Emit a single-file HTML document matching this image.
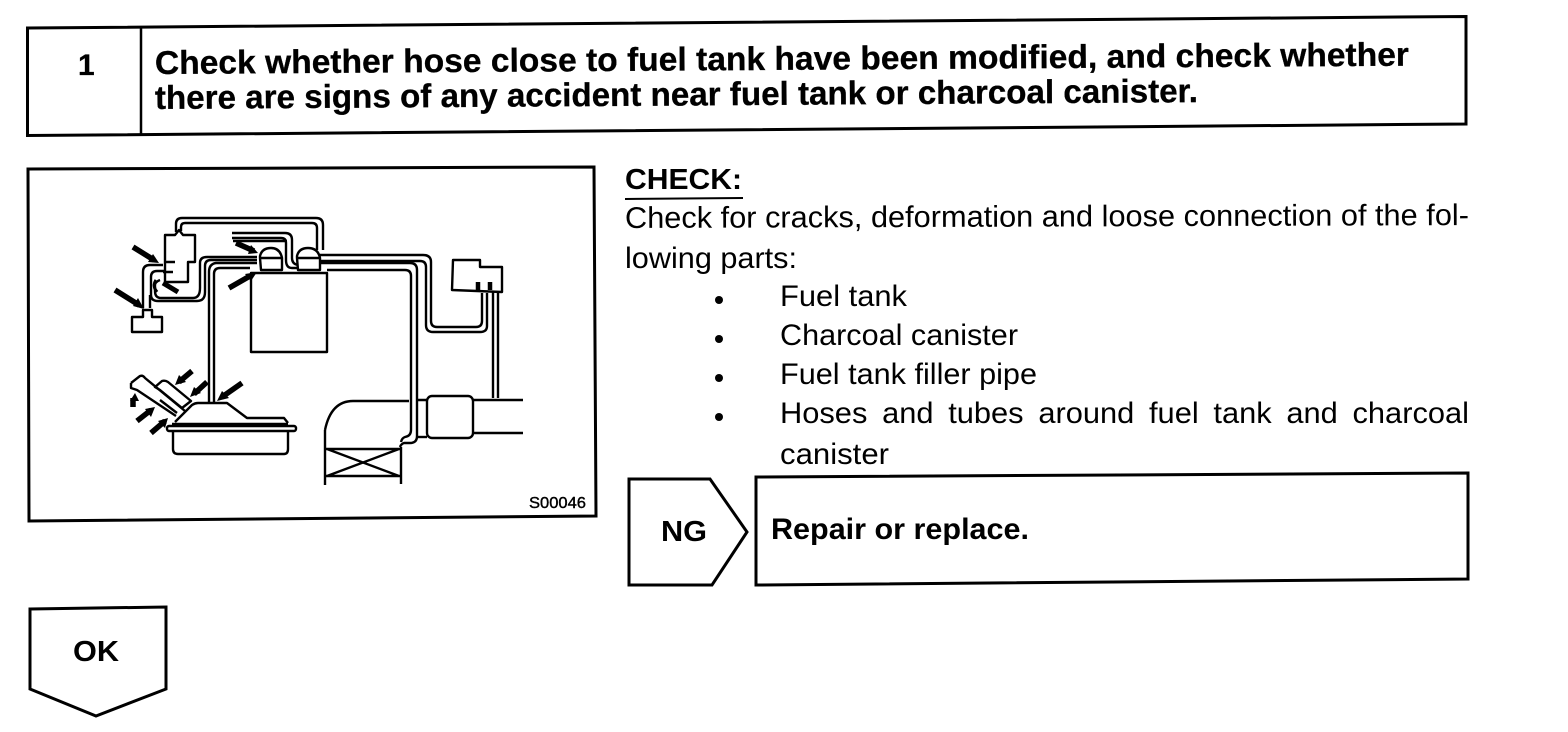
<!DOCTYPE html>
<html><head><meta charset="utf-8"><style>
html,body{margin:0;padding:0;background:#fff}
svg{display:block}
text{font-family:"Liberation Sans",sans-serif;fill:#000}
.b{font-weight:bold}
</style></head><body>
<svg width="1568" height="732" viewBox="0 0 1568 732" xmlns="http://www.w3.org/2000/svg">
<g fill="none" stroke="#000" stroke-width="3">
<path d="M27.500 28L1466 16.500V124L27.500 135.500Z"/>
<path d="M141 27V134" stroke-width="2.500"/>
<path d="M28 169L594 167L596 516L29 521Z"/>
<path d="M629 479H710L747 532L712 585H629Z"/>
<path d="M756 477L1468 473V579L756 585Z"/>
<path d="M30 609L166 607V689L96 716L30 689Z"/>
<path d="M625 199L743 198" stroke-width="2"/>
</g>
<text x="78" y="75" class="b" font-size="30" stroke="#000" stroke-width=".3">1</text>
<g class="b" font-size="33" stroke="#000" stroke-width=".3">
<text x="155" y="74" textLength="1254" lengthAdjust="spacingAndGlyphs" transform="rotate(-0.38 155 74)">Check whether hose close to fuel tank have been modified, and check whether</text>
<text x="155" y="109" textLength="1043" lengthAdjust="spacingAndGlyphs" transform="rotate(-0.38 155 109)">there are signs of any accident near fuel tank or charcoal canister.</text>
</g>
<text x="625" y="189" class="b" font-size="29" textLength="117" lengthAdjust="spacingAndGlyphs">CHECK:</text>
<g font-size="30">
<text x="625" y="228" textLength="844" lengthAdjust="spacingAndGlyphs" transform="rotate(-0.2 625 228)">Check for cracks, deformation and loose connection of the fol-</text>
<text x="625" y="268" textLength="172" lengthAdjust="spacingAndGlyphs">lowing parts:</text>
<text x="780" y="306" textLength="127" lengthAdjust="spacingAndGlyphs">Fuel tank</text>
<text x="780" y="345" textLength="238" lengthAdjust="spacingAndGlyphs">Charcoal canister</text>
<text x="780" y="384" textLength="257" lengthAdjust="spacingAndGlyphs">Fuel tank filler pipe</text>
<text x="780" y="423" textLength="689" lengthAdjust="spacingAndGlyphs" word-spacing="6">Hoses and tubes around fuel tank and charcoal</text>
<text x="780" y="464" textLength="109" lengthAdjust="spacingAndGlyphs">canister</text>
</g>
<g fill="#000">
<circle cx="719" cy="300" r="4"/><circle cx="719" cy="339" r="4"/><circle cx="719" cy="378" r="4"/><circle cx="719" cy="417" r="4"/>
</g>
<text x="661" y="541" class="b" font-size="29" textLength="46" lengthAdjust="spacingAndGlyphs">NG</text>
<text x="771" y="539" class="b" font-size="30" textLength="258" lengthAdjust="spacingAndGlyphs">Repair or replace.</text>
<text x="73" y="661" class="b" font-size="29" textLength="46" lengthAdjust="spacingAndGlyphs">OK</text>
<text x="529" y="508" font-size="16" textLength="57" lengthAdjust="spacingAndGlyphs" stroke="#000" stroke-width=".4">S00046</text>

<g fill="none" stroke="#000" stroke-width="2.400" stroke-linejoin="round">
<!-- upper-left device -->
<path d="M165 235H175L179 230L183 235H195V262H188V282H165Z"/>
<path d="M132 317H143V310H152V317H162V332H132Z"/>
<path d="M176 232V224Q176 218 182 218H316Q323 218 323 225V250"/>
<path d="M181 231V227Q181 223 185 223H312Q317 223 317 228V250"/>
<path d="M232 233H285Q292 233 292 240V258Q292 264 298 265"/>
<path d="M232 238H281Q286 238 286 243V260Q286 268 292 268H298"/>
<!-- canister -->
<rect x="251" y="273" width="76" height="79"/>
<path d="M260 258V256Q262 248 271 248Q280 248 282 258V270H261Z"/>
<path d="M297 258V256Q299 248 308 248Q318 248 320 258V270H298Z"/>
<path d="M260 258H282M297 258H320"/>
<!-- lines from canister -->
<path d="M257 257H207Q200 257 200 263V288Q200 298 193 298H161Q155 298 155 291V285Q155 282 160 280"/>
<path d="M257 260H211Q205 260 205 266V292Q205 301 197 301H158Q151 301 151 295V277Q151 271 157 271H164"/>
<path d="M143 308V272Q143 265 150 265H163"/>
<path d="M150 308V295"/>
<path d="M209 402V272Q209 264 216 263H257"/>
<path d="M214 402V274Q214 268 220 268H250"/>
<path d="M320 255H423Q431 255 431 262V321Q431 327 437 327H476Q482 327 482 321V293"/>
<path d="M320 261H420Q426 261 426 267V325Q426 332 433 332H480Q487 332 487 326V293"/>
<path d="M320 263H410Q417 263 417 270V436Q417 443 410 443H404Q401 444 400 447"/>
<path d="M327 270H405Q411 270 411 276V430Q411 436 405 437Q402 438 401 442"/>
<!-- right device -->
<path d="M453 260H480V267H502V292L452 290Z"/>
<path d="M493 292V398M498 292V398"/>
<!-- duct -->
<path d="M325 430Q331 401 353 401H409M417 400H427"/>
<path d="M325 430V485M401 447V484"/>
<path d="M326 449H400M326 476H400M327 449L399 476M399 449L327 476"/>
<rect x="427" y="396" width="46" height="42" rx="5"/>
<path d="M417 437H427"/>
<path d="M473 400H523M473 433H523"/>
<!-- pump -->
<path d="M175 422L192 405Q195 403 198 403H227L247 418H284L288 423"/>
<rect x="167" y="426" width="129" height="5" rx="2"/>
<path d="M173 432V449Q173 454 178 454H284Q288 454 288 449V431"/>
<path d="M172 424H288"/>
<path d="M131 383L140 376Q143 375 145 378L185 411"/>
<path d="M131 383V388L137 390L176 416"/>
<path d="M155 387L162 381Q165 380 168 382L191 401L182 408L160 390Z"/>
<path d="M160 400L177 413"/>
</g>
<g fill="none" stroke="#000" stroke-width="5.500">
<path d="M133 247L154 260"/>
<path d="M115 290L139 305"/>
<path d="M236 243L254 251"/>
<path d="M229 288L250 276"/>
<path d="M233 241H287" stroke-width="2.400"/>
<path d="M192 371L179 382"/>
<path d="M207 382L194 394"/>
<path d="M242 383L222 397"/>
<path d="M137 421L151 410"/>
<path d="M151 433L165 421"/>
<path d="M133 407V398"/>
<path d="M163 283L178 292" stroke-width="5"/>
<path d="M156 280Q152 286 157 292" stroke-width="3"/>
<path d="M165 262H175M163 272H173" stroke-width="2.400"/>
<path d="M478 282V290M490 282V290" stroke-width="4.500"/>
</g>
<g fill="#000">
<path d="M159 263L148 262L153 254Z"/>
<path d="M144 309L133 306L138 298Z"/>
<path d="M258 253L248 254L251 245Z"/>
<path d="M257 272L251 281L245 274Z"/>
<path d="M175 385L179 375L186 382Z"/>
<path d="M190 397L194 387L201 393Z"/>
<path d="M217 401L222 391L229 398Z"/>
<path d="M155 407L151 417L145 409Z"/>
<path d="M168 418L165 428L158 421Z"/>
<path d="M135 393L130 401L139 401Z"/>
</g>
</svg>
</body></html>
